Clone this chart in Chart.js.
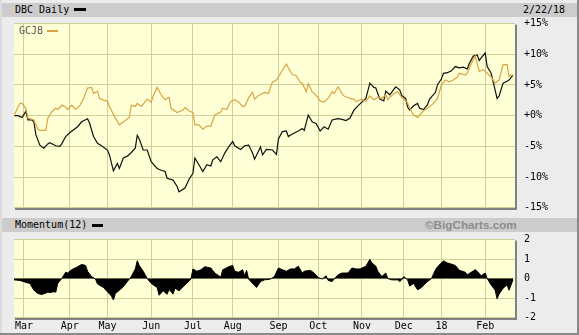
<!DOCTYPE html>
<html>
<head>
<meta charset="utf-8">
<script src="https://cdn.jsdelivr.net/npm/chart.js@4.4.1/dist/chart.umd.min.js"></script>
<style>
  html, body { margin: 0; padding: 0; background: #ececec; }
  #wrap { position: relative; width: 579px; height: 335px; background: #ececec; overflow: hidden;
          font-family: "DejaVu Sans Mono", monospace; font-size: 10px; color: #000; }
  .band { position: absolute; left: 2px; width: 575px; height: 14px; background: #cccccc; }
  .txt { position: absolute; line-height: 14px; white-space: nowrap; }
  .sw { position: absolute; height: 3px; background: #000; }
  canvas { position: absolute; left: 0; }
  #frameR { position: absolute; right: 0; top: 0; width: 2px; height: 335px; background: #8a8a8a; }
  #frameB { position: absolute; left: 0; bottom: 0; width: 579px; height: 2px; background: #8a8a8a; }
  #frameL { position: absolute; left: 0; top: 0; width: 2px; height: 335px; background: #dcdcdc; }
</style>
</head>
<body>
<div id="wrap">
  <div id="frameL"></div>
  <div class="band" style="top:3px"></div>
  <div class="txt" style="left:15px; top:3px;">DBC Daily</div>
  <div class="sw" style="left:74px; top:8px; width:12px;"></div>
  <div class="txt" style="left:523px; top:3px;">2/22/18</div>

  <div class="band" style="top:218px"></div>
  <div class="txt" style="left:15px; top:218px;">Momentum(12)</div>
  <div class="sw" style="left:92px; top:224px; width:11px;"></div>
  <div class="txt" style="left:425px; top:218px; font-family:'Liberation Sans', Arial, sans-serif; font-weight:bold; font-size:11.7px; color:#8c8c8c;">©BigCharts.com</div>

  <canvas id="main" width="579" height="217" style="top:0"></canvas>
  <canvas id="mom" width="579" height="102" style="top:233px"></canvas>

  <div class="txt" style="left:19px; top:24px; color:#555;">GCJ8</div>
  <div style="position:absolute; left:47px; top:30px; width:11px; height:2px; background:#d8a444;"></div>

  <div id="frameR"></div>
  <div id="frameB"></div>
</div>
<script>
// ---- categories / axis labels (x = trading-day index, 22 Feb 2017 = 0) ----
const monthDays   = [5, 28, 47, 69, 90, 110, 133, 153, 175, 196, 215, 237];
const monthLabels = ['Mar','Apr','May','Jun','Jul','Aug','Sep','Oct','Nov','Dec','18','Feb'];
const pctTicks    = [-15, -10, -5, 0, 5, 10, 15];
const momTicks    = [-2, -1, 0, 1, 2];

// ---- DBC Daily (% change) ----
const dbcDays = [0,2,4,6,7,9,10,11,13,15,17,18,21,23,24,26,28,30,32,34,37,38,40,42,44,47,48,50,52,53,55,57,59,61,62,63,65,67,69,72,74,76,77,80,82,83,86,88,90,91,93,95,97,99,100,102,104,106,108,110,111,114,116,118,120,121,124,125,127,130,132,133,135,137,138,140,143,145,146,148,150,152,154,156,158,160,163,165,167,169,171,173,175,177,179,181,182,184,186,187,189,192,194,195,197,198,199,201,203,204,206,208,209,212,213,215,216,218,220,222,224,226,228,229,231,232,233,234,235,237,238,240,241,243,244,246,248,249,251];
const dbcVals = [0,0,-0.3,0.7,-0.7,-0.7,-1.0,-3.1,-4.8,-5.3,-4.6,-4.4,-4.9,-5.0,-4.6,-3.4,-2.8,-2.3,-1.8,-1.0,-0.5,-1.2,-3.4,-4.5,-4.9,-5.6,-6.4,-9.0,-7.8,-8.6,-6.9,-6.6,-6.0,-5.3,-3.2,-3.8,-5.6,-5.6,-7.5,-8.6,-8.9,-9.1,-10.2,-10.5,-11.5,-12.4,-11.8,-10.4,-9.4,-6.9,-8.0,-9.1,-8.0,-8.2,-7.2,-6.7,-7.5,-6.1,-5.1,-4.2,-4.9,-5.5,-4.9,-4.8,-6.1,-7.1,-5.1,-6.4,-5.5,-5.6,-6.3,-3.8,-2.6,-2.5,-3.4,-3.0,-2.5,-2.1,-2.4,0.1,-1.0,-1.3,-2.5,-1.8,-2.2,-0.7,-0.5,-0.6,-0.8,-0.4,0.9,1.6,2.2,2.8,5.3,4.6,4.5,2.7,2.4,4.0,3.4,4.7,4.2,3.3,2.8,1.4,0.9,1.6,2.0,1.2,1.0,1.8,2.7,3.8,5.0,6.0,6.9,7.0,7.3,8.0,7.8,7.9,7.6,8.5,9.7,9.8,9.9,9.0,9.4,10.2,8.0,6.9,5.5,2.8,3.2,5.3,5.6,5.8,6.6];

// ---- GCJ8 (% change) ----
const gcjDays = [0,2,3,4,6,7,10,12,13,16,17,19,21,22,24,26,27,29,31,33,35,37,39,40,42,43,46,47,48,51,53,56,58,59,61,62,64,66,67,69,70,72,74,76,78,79,82,85,86,88,90,91,93,95,97,99,101,104,105,107,109,111,113,115,116,118,120,121,123,125,126,128,130,132,135,137,139,140,142,144,145,147,148,150,152,154,156,158,160,161,163,165,166,169,171,172,175,177,179,181,183,185,187,188,191,193,195,198,199,201,203,206,208,211,213,215,217,219,221,223,224,227,228,230,232,234,236,238,240,242,244,246,248,249,250,251];
const gcjVals = [0,1.4,2.0,2.0,1.2,-0.4,-0.7,-2.2,-2.4,-2.4,-0.4,0.6,1.2,1.0,1.7,1.4,1.0,1.7,1.0,1.6,2.8,4.5,4.6,3.6,4.0,2.8,2.4,2.4,1.5,-0.4,-1.5,-0.8,-0.3,1.7,1.5,2.0,1.5,2.3,2.7,2.2,3.2,4.6,3.4,2.6,3.0,1.2,0.5,0.9,1.3,0.8,0.5,-1.5,-1.5,-2.2,-1.7,-1.7,0.1,0.6,1.2,1.0,2.3,2.6,2.2,1.5,1.5,2.9,3.8,2.7,3.3,3.6,3.8,3.6,5.5,5.8,7.4,8.4,7.2,6.7,6.5,5.4,5.3,3.9,5.2,3.9,3.3,2.4,2.2,2.8,3.9,3.6,4.7,3.6,3.2,2.8,2.7,2.3,2.7,2.3,3.2,2.6,3.0,2.8,3.4,2.6,3.6,3.9,3.0,2.1,1.2,0.1,-0.3,0.8,1.2,2.0,2.8,5.0,5.8,5.5,5.8,6.3,6.9,6.6,6.9,8.5,9.7,7.2,7.5,6.9,6.3,5.3,5.8,8.3,8.3,6.4,6.6,6.6];

// ---- Momentum(12) ----
const momDays = [0,3,6,8,10,12,14,17,18,20,21,22,24,26,27,29,32,34,36,37,39,41,42,45,47,49,50,51,53,55,57,59,61,62,63,65,67,69,72,73,75,77,78,80,81,83,86,89,90,92,94,96,99,101,104,105,108,110,111,113,115,116,117,118,120,122,124,126,129,131,133,135,137,139,141,143,145,146,149,151,153,155,157,158,160,161,163,165,168,170,172,174,177,179,180,182,183,185,187,188,190,193,194,195,196,198,199,201,203,205,207,208,210,212,213,216,218,219,222,224,227,228,230,232,233,235,237,238,240,242,243,244,246,248,249,251];
const momVals = [-0.07,-0.1,-0.2,-0.25,-0.6,-0.77,-0.82,-0.7,-0.72,-0.68,-0.7,-0.25,0,0.32,0.28,0.45,0.6,0.72,0.67,0.37,0.1,-0.03,-0.28,-0.46,-0.68,-0.9,-1.1,-0.77,-0.6,-0.42,-0.16,0.1,0.49,0.91,0.67,0.37,0,-0.25,-0.46,-0.86,-0.63,-0.81,-0.56,-0.8,-0.5,-0.63,-0.33,-0.03,0.49,0.37,0.45,0.6,0.54,0.28,0.07,0.45,0.6,0.67,0.37,0.32,0.45,0.14,0.42,-0.03,-0.25,-0.46,-0.16,-0.07,-0.03,0.1,0.54,0.45,0.37,0.49,0.49,0.63,0.28,0.37,0.42,0.28,0.05,-0.03,0.14,-0.1,-0.16,-0.03,0.19,0.28,0.28,0.54,0.49,0.49,0.63,0.98,0.8,0.63,0.37,0.1,0.28,0,-0.07,-0.07,-0.16,-0.07,0.1,-0.07,-0.39,-0.25,-0.58,-0.46,-0.25,-0.16,0,0.45,0.6,0.9,0.8,0.77,0.67,0.42,0.32,0.19,0.32,0.45,0.37,0.14,0.28,0,-0.33,-0.6,-1.04,-0.8,-0.5,-0.33,-0.6,-0.07];

const FONT = { family: "'DejaVu Sans Mono', monospace", size: 10 };
const PLOT_BG = '#ffffd6';
const GRID = '#cfcf98';

const toPts = (xs, ys) => xs.map((x, i) => ({ x: x, y: ys[i] }));
const noOverhang = s => { s.paddingTop = 0; s.paddingBottom = 0; s.paddingLeft = 0; s.paddingRight = 0; };

const panelPlugin = {
  id: 'panel',
  beforeDraw(chart) {
    const a = chart.chartArea, c = chart.ctx;
    c.save();
    c.fillStyle = PLOT_BG;
    c.fillRect(a.left, a.top, a.right - a.left, a.bottom - a.top);
    c.restore();
  },
  afterDraw(chart) {
    const a = chart.chartArea, c = chart.ctx;
    c.save();
    c.fillStyle = '#808080';
    c.fillRect(a.left + 1, Math.round(a.bottom), a.right - a.left + 1, 2);
    c.fillRect(Math.round(a.right), a.top + 1, 2, a.bottom - a.top + 1);
    c.restore();
  }
};

const xScale = (showLabels) => ({
  type: 'linear', min: 0, max: 252,
  afterBuildTicks: ax => { ax.ticks = monthDays.map(v => ({ value: v })); },
  grid: { color: GRID, lineWidth: 1, drawTicks: false },
  border: { display: false },
  ticks: {
    display: showLabels, font: FONT, color: '#000', padding: 3, maxRotation: 0, autoSkip: false,
    callback: v => monthLabels[monthDays.indexOf(v)]
  },
  afterFit: s => { s.height = showLabels ? 17.5 : 0; noOverhang(s); }
});

const yScale = (min, max, ticks, fmt) => ({
  position: 'right', min: min, max: max,
  afterBuildTicks: ax => { ax.ticks = ticks.map(v => ({ value: v })); },
  grid: { color: GRID, lineWidth: 1, drawTicks: false },
  border: { display: false },
  ticks: { font: FONT, color: '#000', padding: 9, callback: fmt },
  afterFit: s => { s.width = 64; noOverhang(s); }
});

new Chart(document.getElementById('main'), {
  type: 'line',
  data: {
    datasets: [
      { label: 'GCJ8', data: toPts(gcjDays, gcjVals), borderColor: '#d8a444', borderWidth: 1.2, pointRadius: 0, tension: 0 },
      { label: 'DBC Daily', data: toPts(dbcDays, dbcVals), borderColor: '#111', borderWidth: 1.2, pointRadius: 0, tension: 0 }
    ]
  },
  options: {
    responsive: false, animation: false, devicePixelRatio: 1,
    layout: { padding: { left: 14, top: 23.6, right: 0, bottom: 9.3 } },
    plugins: { legend: { display: false }, tooltip: { enabled: false } },
    scales: {
      x: xScale(false),
      y: yScale(-15, 15, pctTicks, v => (v < 0 ? '' : '+') + v + '%')
    }
  },
  plugins: [panelPlugin]
});

new Chart(document.getElementById('mom'), {
  type: 'line',
  data: {
    datasets: [
      { label: 'Momentum(12)', data: toPts(momDays, momVals), borderColor: '#000', backgroundColor: '#000',
        borderWidth: 1, pointRadius: 0, tension: 0, fill: 'origin' }
    ]
  },
  options: {
    responsive: false, animation: false, devicePixelRatio: 1,
    layout: { padding: { left: 14, top: 6.5, right: 0, bottom: 0 } },
    plugins: { legend: { display: false }, tooltip: { enabled: false } },
    scales: {
      x: xScale(true),
      y: yScale(-2, 2, momTicks, v => String(v))
    }
  },
  plugins: [panelPlugin]
});
</script>
</body>
</html>
